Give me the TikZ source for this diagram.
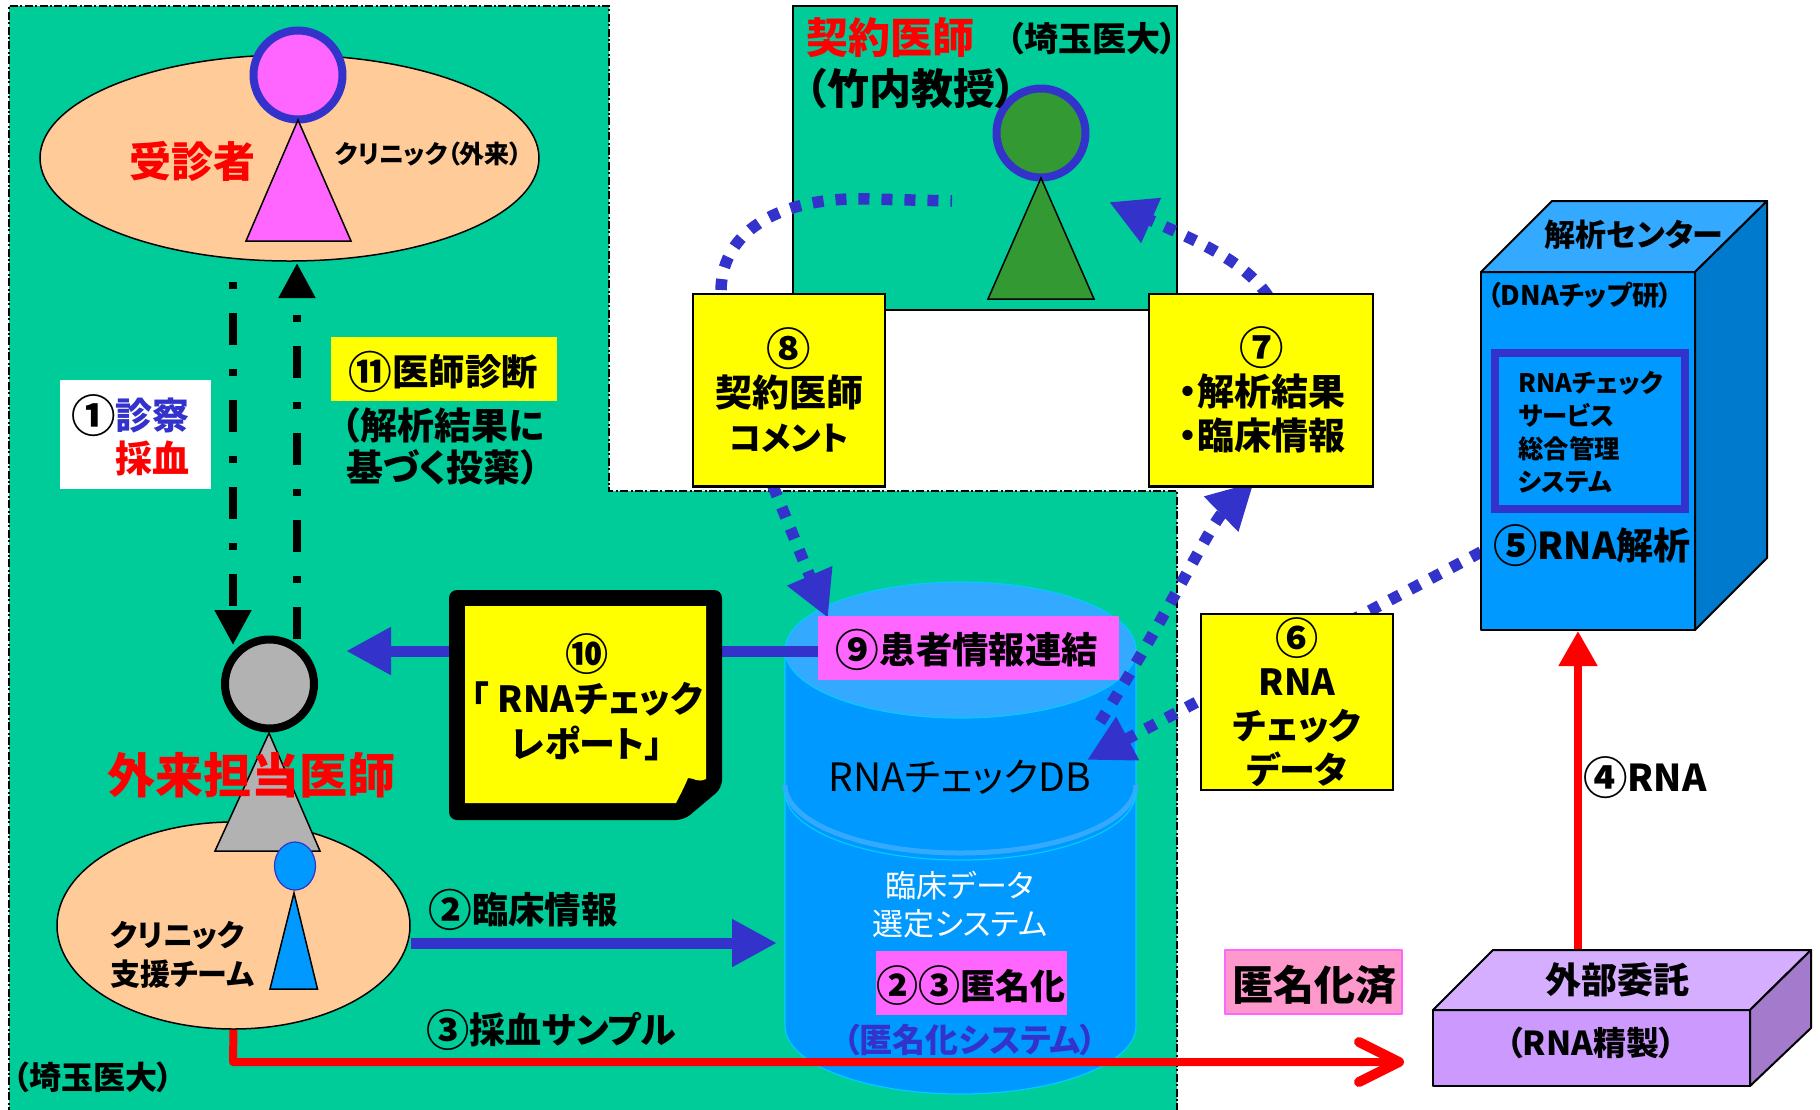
\documentclass[tikz,border=0pt]{standalone}
\usepackage{fontspec}
\setmainfont[RawFeature=+palt]{Noto Sans CJK JP}
\usetikzlibrary{arrows.meta,shapes.geometric}
\definecolor{nblue}{HTML}{3333CC}
\definecolor{nyellow}{HTML}{FFFF00}
\definecolor{cgreen}{HTML}{00CC99}
\definecolor{dgreen}{HTML}{339933}
\definecolor{peach}{HTML}{FFCC99}
\definecolor{pinkm}{HTML}{FF66FF}
\definecolor{dbblue}{HTML}{0099FF}
\definecolor{dbtop}{HTML}{33AAFF}
\definecolor{dbedge}{HTML}{00CCFF}
\definecolor{sideblue}{HTML}{007ACC}
\definecolor{lilac}{HTML}{CC99FF}
\definecolor{lilactop}{HTML}{D6AEFF}
\definecolor{lilacside}{HTML}{A37ACC}
\definecolor{anonpink}{HTML}{FF99CC}
\newcommand{\cnum}[1]{\raisebox{-0.08em}{\scalebox{1.2}{#1}}}
\tikzset{
	lab/.style 2 args={inner sep=0pt, align=center, font=\fontsize{#1}{#2}\selectfont\bfseries},
	thin lab/.style 2 args={inner sep=0pt, align=center, font=\fontsize{#1}{#2}\selectfont},
	person/.style={circle, draw, line width=4pt, inner sep=0pt, minimum size=44.5pt},
	body/.style={draw=black, line width=0.75pt},
	ybox/.style={rectangle, draw=black, line width=1.25pt, fill=nyellow, inner sep=0pt},
	tag/.style={rectangle, inner sep=0pt},
	room/.style={ellipse, draw=black, line width=0.75pt, fill=peach, inner sep=0pt},
	dotflow/.style={nblue, line width=5.75pt, dash pattern=on 5.5pt off 6pt},
	dotarrow/.style={dotflow, -{Triangle[length=23pt,width=23pt]}},
	visit/.style={black, line width=4pt, -{Triangle[length=17.5pt,width=17.5pt]}},
	flow/.style={nblue, line width=5.5pt, -{Triangle[length=22.5pt,width=22.5pt]}},
	redflow/.style={red, line width=4pt},
	solid3d/.style={draw=black, line width=1pt, line join=round},
}
\begin{document}
\begin{tikzpicture}[x=0.5pt, y=-0.5pt]
	\useasboundingbox (0,0) rectangle (1820,1109);
	\fill[cgreen] (9,6) -- (609,6) -- (609,491) -- (1177,491) -- (1177,1115) -- (9,1115) -- cycle;
	\draw[black, line width=0.6pt, dash pattern=on 4pt off 1.2pt on 1pt off 1.2pt] (9,1115) -- (9,6) -- (609,6) -- (609,491) -- (1177,491) -- (1177,1115);
	\draw[fill=cgreen, draw=black, line width=1.1pt] (793,6) rectangle (1177,310);

	\node[room, minimum width=249.5pt, minimum height=103pt] (patientroom) at (289.5,158) {};
	\node[person, draw=nblue, fill=pinkm] (patienthead) at (298,75) {};
	\draw[body, fill=pinkm] (298,120) -- (351,241) -- (246,241) -- cycle;

	\node[person, draw=nblue, fill=dgreen] (contracthead) at (1041,133) {};
	\draw[body, fill=dgreen] (1041,178) -- (1094,299) -- (988,299) -- cycle;

	\node[room, minimum width=176.5pt, minimum height=103.5pt] (clinicroom) at (233.5,925.5) {};
	\node[person, draw=black, fill=black!30] (doctorhead) at (269.5,684) {};
	\draw[body, fill=black!30] (269,733) -- (320,851) -- (215,851) -- cycle;
	\node[ellipse, draw=nblue, line width=0.6pt, fill=dbblue, inner sep=0pt, minimum width=20.5pt, minimum height=24pt] (teamhead) at (295,866) {};
	\draw[body, fill=dbblue] (294,893) -- (317.5,989) -- (270,989) -- cycle;

	\fill[dbblue] (785,650) -- (785,1026) arc[start angle=180, end angle=360, x radius=87.75pt, y radius=34pt] -- (1136,650) -- cycle;
	\draw[dbedge, line width=0.6pt] (785,650) -- (785,1026) arc[start angle=180, end angle=360, x radius=87.75pt, y radius=34pt] -- (1136,650);
	\draw[dbtop, line width=2.5pt] (785,785) arc[start angle=180, end angle=360, x radius=87.75pt, y radius=34pt];
	\draw[dbedge, line width=0.6pt] (785,792) arc[start angle=180, end angle=360, x radius=87.75pt, y radius=34pt];
	\draw[dbedge, line width=0.6pt, fill=dbtop] (960.5,650) ellipse [x radius=87.75pt, y radius=34pt];
	\coordinate (dbtopend) at (828,618);
	\coordinate (dbsideend) at (1087,760);
	\coordinate (dbsidestart) at (1100,722);
	\coordinate (dbleft) at (777,943);

	\coordinate (visitstart) at (233,282);
	\coordinate (visitend) at (233,645);
	\coordinate (diagstart) at (297,639);
	\coordinate (diagend) at (297,263);
	\draw[visit, dash pattern=on 3.5pt off 12pt on 16pt off 12pt] (visitstart) -- (visitend);
	\draw[visit, dash pattern=on 16pt off 12pt on 3.5pt off 12pt] (diagstart) -- (diagend);

	\coordinate (commentstart) at (721,290);
	\coordinate (commentend) at (952,201);
	\coordinate (resultstart) at (1268,296);
	\coordinate (resultend) at (1109,202);
	\draw[dotflow] (commentstart) .. controls (722,228) and (785,196) .. (870,199) -- (commentend);
	\draw[dotarrow] (resultstart) .. controls (1245,262) and (1200,242) .. (resultend);
	\draw[dotarrow] (773,486) .. controls (785,515) and (805,565) .. (dbtopend);
	\draw[dotarrow] (1481,552) -- (dbsideend);
	\draw[dotarrow] (dbsidestart) .. controls (1165,620) and (1210,525) .. (1254,482);

	\draw[flow] (818,651) -- (346,651);
	\draw[flow] (clinicroom.east |- dbleft) -- (dbleft);

	\node[ybox, minimum width=96pt, minimum height=96.25pt] (box8) at (789,390) {};
	\node[lab={18.5}{22}] (label8) at (789,390) {\cnum{⑧}\\契約医師\\{\fontsize{16.5}{22}\selectfont コメント}};
	\node[ybox, minimum width=112pt, minimum height=96.25pt] (box7) at (1261,390) {};
	\node[lab={18.5}{22}] (label7) at (1262,390) {\cnum{⑦}\\・解析結果\\・臨床情報};
	\node[ybox, minimum width=96pt, minimum height=88pt] (box6) at (1297,702) {};
	\node[lab={18}{22}] (label6) at (1297,702) {\cnum{⑥}\\RNA\\チェック\\データ};

	\fill[black, rounded corners=4pt] (449,590) -- (722,590) -- (722,788) -- (684,820) -- (449,820) -- cycle;
	\fill[nyellow] (465,606) -- (706,606) -- (706,779) .. controls (697,783) and (695,778) .. (688,778) .. controls (683,790) and (680,795) .. (676,803) -- (465,803) -- cycle;
	\node[lab={18}{22.5}] (label10) at (587,697) {\cnum{⑩}\\「 RNAチェック\\レポート」};

	\node[tag, fill=pinkm, minimum width=150.5pt, minimum height=32pt] (box9) at (968.5,648) {};
	\node[lab={18.2}{22}] (label9) at (967,650) {\cnum{⑨}患者情報連結};
	\node[tag, fill=pinkm, minimum width=95.5pt, minimum height=32pt] (box23) at (971.5,983) {};
	\node[lab={17.5}{22}] (label23) at (971,986) {\cnum{②}\cnum{③}匿名化};

	\node[thin lab={19.5}{22}] (dbname) at (959.5,777) {RNAチェックDB};
	\node[thin lab={15.5}{19}, white] (dbsystem) at (960,905) {臨床データ\\選定システム};
	\node[lab={16.5}{18}, nblue] (anonsystem) at (970,1040) {（匿名化システム）};

	\draw[redflow, line join=round, -{Straight Barb[round,length=20pt,width=20pt,line width=5pt]}] (clinicroom.south) -- (233,1062) -- (1404,1062);
	\node[solid3d, fill=anonpink, draw=pinkm, rectangle, inner sep=0pt, minimum width=88.5pt, minimum height=32pt] (anonbox) at (1313.5,982) {};
	\node[lab={20.5}{22}] (anonlabel) at (1314,985) {匿名化済};

	\draw[solid3d, fill=lilac] (1433,1010) rectangle (1750,1086);
	\draw[solid3d, fill=lilactop] (1433,1010) -- (1493,950) -- (1811,950) -- (1750,1010) -- cycle;
	\draw[solid3d, fill=lilacside] (1750,1010) -- (1811,950) -- (1811,1028) -- (1750,1086) -- cycle;
	\node[lab={18}{22}] (outsource) at (1617,980) {外部委託};
	\node[lab={16.5}{18}] (purify) at (1591,1043) {（RNA精製）};

	\draw[solid3d, fill=dbblue] (1481,272) rectangle (1695,630);
	\draw[solid3d, fill=dbtop] (1481,272) -- (1552,201) -- (1767,201) -- (1695,272) -- cycle;
	\draw[solid3d, fill=sideblue] (1695,272) -- (1767,201) -- (1767,558) -- (1695,630) -- cycle;
	\draw[nblue, line width=4pt] (1495,353) rectangle (1685,509);
	\node[lab={15.5}{18}] (center) at (1634,235) {解析センター};
	\node[lab={13.5}{15}] (chiplab) at (1580,295) {（DNAチップ研）};
	\node[lab={12.7}{16.5}, align=left, anchor=west] (system) at (1518,432) {RNAチェック\\サービス\\総合管理\\システム};
	\node[lab={18.5}{22}] (analysis) at (1592,546) {\cnum{⑤}RNA解析};

	\coordinate (rnastart) at (1578,949);
	\coordinate (rnaend) at (1578,631);
	\draw[redflow, -{Triangle[length=17.5pt,width=18.5pt]}] (rnastart) -- (rnaend);
	\node[lab={18.5}{22}] (rnalabel) at (1645,778) {\cnum{④}RNA};

	\node[tag, fill=white, minimum width=75.5pt, minimum height=54.5pt] (examinebox) at (135.5,434.5) {};
	\node[lab={18.5}{21.5}, align=right, anchor=east] (examine) at (190,435) {\cnum{①}{\color{nblue}診察}\\{\color{red}採血}};
	\node[tag, fill=nyellow, minimum width=113pt, minimum height=32pt] (diagbox) at (444,369) {};
	\node[lab={18.2}{22}] (diag) at (443.5,372) {\cnum{⑪}医師診断};
	\node[lab={18.5}{21}] (dosage) at (443,446) {（解析結果に\\基づく投薬）};

	\node[lab={21}{24}, red] (patient) at (192,161) {受診者};
	\node[lab={12.5}{13}] (clinic) at (429,154) {クリニック（外来）};
	\node[lab={24}{28}, red] (doctor) at (251,775) {外来担当医師};
	\node[lab={15}{19.5}, align=left, anchor=west] (team) at (110,955) {クリニック\\支援チーム};
	\node[lab={18.2}{22}] (clinical) at (523,910) {\cnum{②}臨床情報};
	\node[lab={18}{22}] (blood) at (551,1030) {\cnum{③}採血サンプル};
	\node[lab={16}{18}] (saitama) at (93,1077) {（埼玉医大）};
	\node[lab={21}{24}, red] (contract) at (890,38) {契約医師};
	\node[lab={21}{24}] (professor) at (911,89) {（竹内教授）};
	\node[lab={17}{18}] (saitamab) at (1092,39) {（埼玉医大）};
\end{tikzpicture}
\end{document}
